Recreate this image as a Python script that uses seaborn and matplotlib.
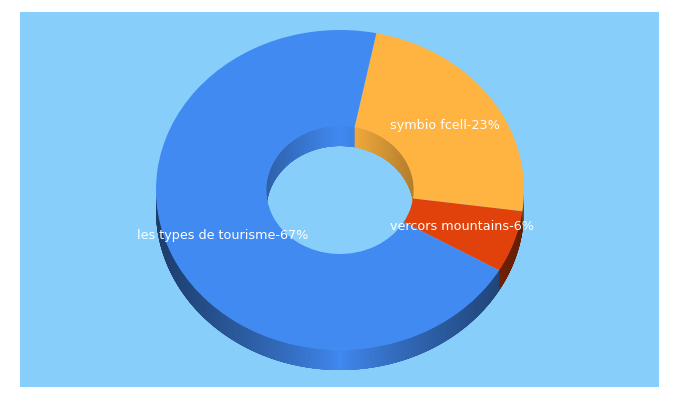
import numpy as np
import matplotlib
matplotlib.use("Agg")
import matplotlib.pyplot as plt
import seaborn as sns

names = ["symbio fcell", "vercors mountains", "les types de tourisme"]
shares = [23, 6, 67]
slice_colors = ["#FFB340", "#E1410A", "#418AF2"]
background = "#87CEFA"

sns.set_theme(style="white", rc={"font.family": "DejaVu Sans"})

fig = plt.figure(figsize=(6.8, 4), dpi=100, facecolor="white")
ax = fig.add_axes([20 / 680, 13 / 400, 639 / 680, 375 / 400])

start_angle = 78.6   # degrees, first slice edge
hole = 0.4
depth = 0.125        # thickness of the ring, in radius units

labels = [f"{n}-{s}%" for n, s in zip(names, shares)]
palette = sns.color_palette(slice_colors)

# slice edges going clockwise, used to colour the side walls
edges = start_angle - np.cumsum(shares) / np.sum(shares) * 360


def slice_color(angle):
    back = (start_angle - angle) % 360
    limits = (start_angle - edges) % 360
    limits[-1] = 360
    return palette[int(np.searchsorted(limits, back, side="right"))]


def draw_wall(radius, a_from, a_to, shade):
    # strips overlap the next one so no seams show
    for a in np.arange(a_from, a_to, 0.5):
        end = min(a + 3, a_to)
        t = np.radians(np.linspace(a, end, 4))
        x = radius * np.cos(t)
        y = radius * np.sin(t)
        mid = abs(np.cos(np.radians(a + 0.25)))
        col = np.array(slice_color(a + 0.25)) * shade(mid)
        ax.fill(np.r_[x, x[::-1]], np.r_[y, y[::-1] - depth],
                color=col, lw=0, zorder=0.5)


# outer wall shows on the lower half, inner wall on the upper half of the hole
draw_wall(1.0, 180, 360, lambda m: 1 - 0.56 * m ** 0.8)
draw_wall(hole, 0, 180, lambda m: 1 - 0.3 * m)

ax.pie(shares, labels=labels, colors=palette, startangle=start_angle,
       counterclock=False, radius=1.0, labeldistance=0.7,
       wedgeprops=dict(width=1 - hole, linewidth=0),
       textprops=dict(color="white", fontsize=9.2, ha="center", va="center"))

ax.set_aspect("auto")
ax.set_xlim((20 - 340) / 184, (659 - 340) / 184)
ax.set_ylim((190 - 387) / 160, (190 - 12) / 160)
ax.set_frame_on(True)
ax.set_facecolor(background)
sns.despine(ax=ax, left=True, bottom=True)

fig.savefig("out.png", dpi=100)
